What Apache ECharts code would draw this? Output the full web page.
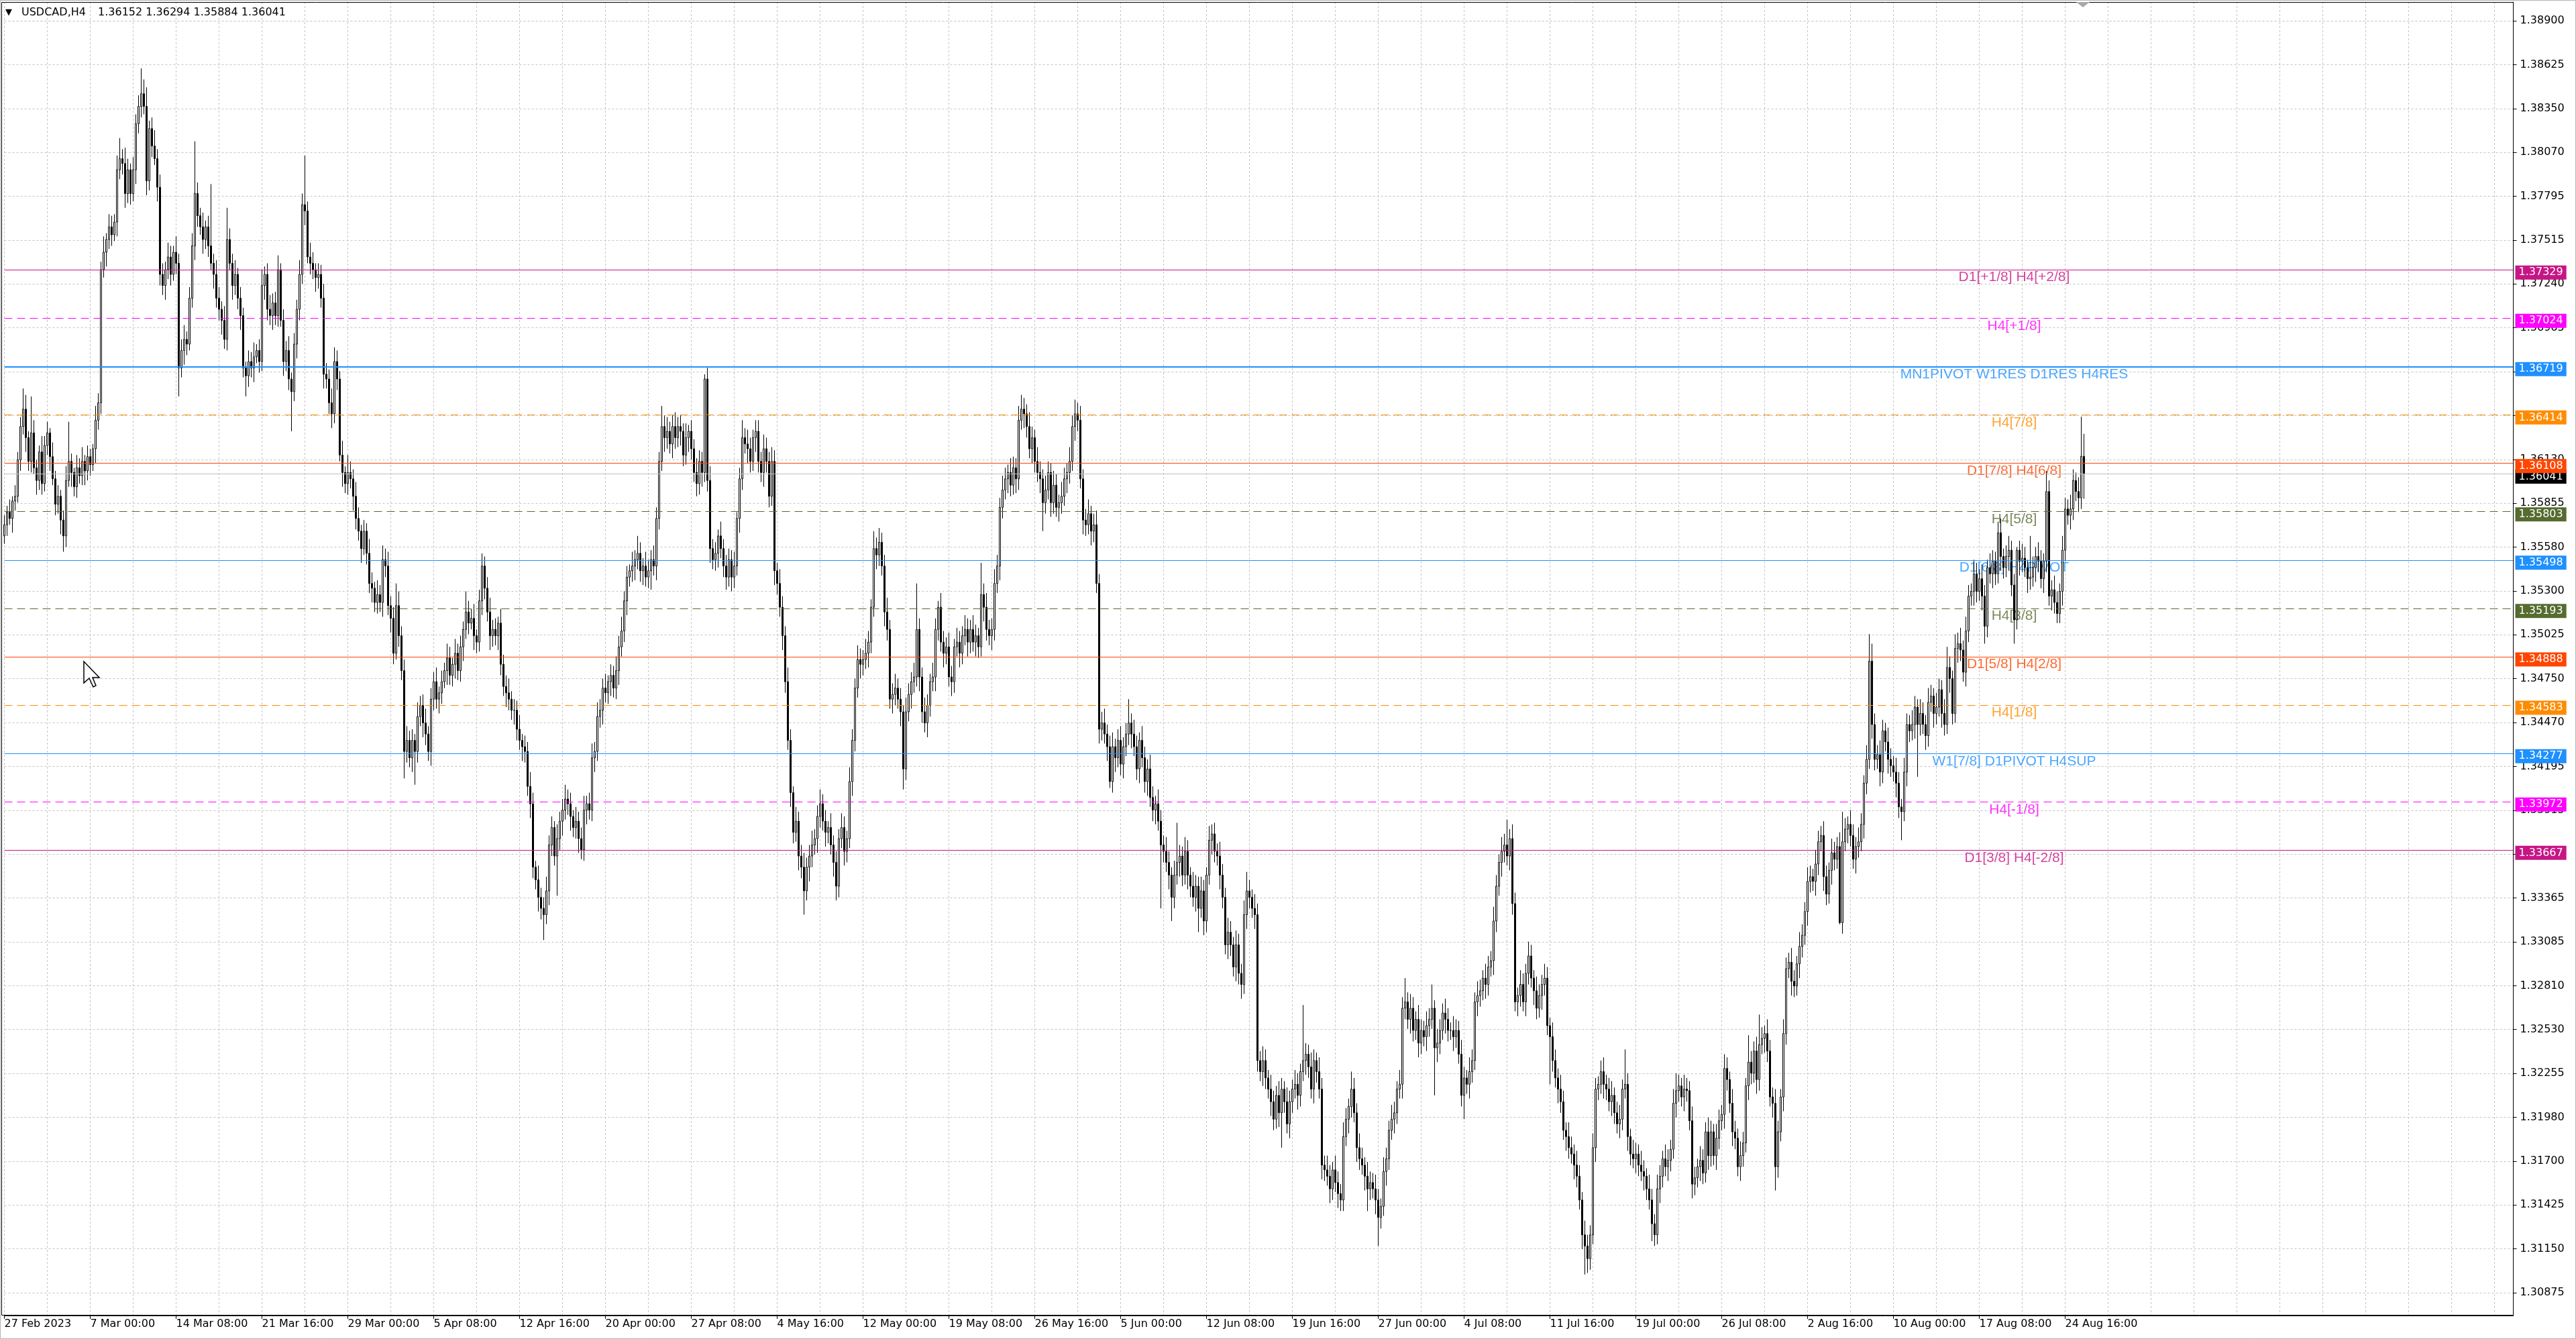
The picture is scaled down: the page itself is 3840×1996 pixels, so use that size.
<!DOCTYPE html>
<html><head><meta charset="utf-8">
<script src="https://cdn.jsdelivr.net/npm/echarts@6/dist/echarts.min.js"></script>
<style>html,body{margin:0;padding:0;background:#fff;overflow:hidden}#c{width:3840px;height:1996px}</style>
</head><body><div id="c"></div>
<script>
// ---------------- DATA ----------------
const symbolTitle = 'USDCAD,H4';
const firstOpen = 1.3565;
// H4 closes, 27 Feb 2023 16:00 -> 25 Aug 2023 20:00
const closes = [
/*0*/ 1.3572,1.3580,1.3576,1.3587,1.3590,1.3613,1.3634,1.3645,1.3627,1.3612,
/*10*/ 1.3630,1.3608,1.3600,1.3618,1.3598,1.3622,1.3630,1.3615,1.3601,1.3585,
/*20*/ 1.3590,1.3575,1.3565,1.3600,1.3612,1.3605,1.3596,1.3608,1.3603,1.3612,
/*30*/ 1.3606,1.3615,1.3610,1.3620,1.3638,1.3649,1.3733,1.3744,1.3752,1.3760,
/*40*/ 1.3755,1.3763,1.3796,1.3803,1.3800,1.3781,1.3796,1.3781,1.3796,1.3825,
/*50*/ 1.3836,1.3844,1.3836,1.3789,1.3822,1.3811,1.3803,1.3785,1.3730,1.3723,
/*60*/ 1.3733,1.3741,1.3730,1.3744,1.3737,1.3671,1.3682,1.3689,1.3686,1.3715,
/*70*/ 1.3748,1.3781,1.3767,1.3760,1.3752,1.3760,1.3748,1.3737,1.3730,1.3715,
/*80*/ 1.3708,1.3701,1.3689,1.3752,1.3737,1.3723,1.3730,1.3715,1.3704,1.3671,
/*90*/ 1.3666,1.3675,1.3671,1.3678,1.3682,1.3675,1.3723,1.3730,1.3708,1.3704,
/*100*/ 1.3712,1.3704,1.3733,1.3701,1.3675,1.3682,1.3664,1.3656,1.3686,1.3708,
/*110*/ 1.3730,1.3774,1.3770,1.3741,1.3737,1.3733,1.3728,1.3730,1.3715,1.3667,
/*120*/ 1.3664,1.3649,1.3642,1.3675,1.3664,1.3616,1.3605,1.3598,1.3605,1.3601,
/*130*/ 1.3590,1.3576,1.3568,1.3557,1.3568,1.3554,1.3535,1.3532,1.3523,1.3528,
/*140*/ 1.3523,1.3550,1.3546,1.3521,1.3513,1.3491,1.3521,1.3502,1.3480,1.3429,
/*150*/ 1.3436,1.3425,1.3436,1.3429,1.3451,1.3458,1.3447,1.3440,1.3429,1.3462,
/*160*/ 1.3473,1.3462,1.3466,1.3473,1.3480,1.3488,1.3477,1.3484,1.3491,1.3480,
/*170*/ 1.3495,1.3506,1.3517,1.3510,1.3513,1.3502,1.3498,1.3524,1.3546,1.3532,
/*180*/ 1.3517,1.3502,1.3506,1.3502,1.3510,1.3484,1.3470,1.3466,1.3462,1.3455,
/*190*/ 1.3455,1.3443,1.3436,1.3432,1.3429,1.3407,1.3396,1.3356,1.3348,1.3337,
/*200*/ 1.3330,1.3326,1.3341,1.3370,1.3381,1.3363,1.3374,1.3385,1.3392,1.3399,
/*210*/ 1.3396,1.3388,1.3381,1.3385,1.3374,1.3367,1.3392,1.3396,1.3392,1.3425,
/*220*/ 1.3429,1.3451,1.3455,1.3469,1.3466,1.3473,1.3477,1.3469,1.3480,1.3495,
/*230*/ 1.3505,1.3524,1.3539,1.3543,1.3546,1.3550,1.3554,1.3543,1.3546,1.3539,
/*240*/ 1.3543,1.3550,1.3546,1.3576,1.3612,1.3634,1.3627,1.3631,1.3623,1.3634,
/*250*/ 1.3627,1.3634,1.3631,1.3616,1.3627,1.3631,1.3620,1.3605,1.3598,1.3612,
/*260*/ 1.3605,1.3664,1.3600,1.3557,1.3550,1.3554,1.3565,1.3557,1.3546,1.3539,
/*270*/ 1.3550,1.3539,1.3546,1.3576,1.3601,1.3627,1.3623,1.3620,1.3612,1.3627,
/*280*/ 1.3631,1.3612,1.3605,1.3620,1.3612,1.3590,1.3612,1.3543,1.3535,1.3520,
/*290*/ 1.3502,1.3473,1.3436,1.3403,1.3378,1.3385,1.3363,1.3356,1.3341,1.3356,
/*300*/ 1.3363,1.3370,1.3374,1.3388,1.3396,1.3385,1.3378,1.3381,1.3370,1.3359,
/*310*/ 1.3344,1.3374,1.3381,1.3366,1.3374,1.3410,1.3436,1.3469,1.3487,1.3484,
/*320*/ 1.3487,1.3491,1.3498,1.3520,1.3557,1.3553,1.3561,1.3546,1.3517,1.3506,
/*330*/ 1.3462,1.3465,1.3469,1.3462,1.3454,1.3418,1.3454,1.3465,1.3473,1.3476,
/*340*/ 1.3506,1.3476,1.3454,1.3447,1.3458,1.3473,1.3476,1.3506,1.3520,1.3498,
/*350*/ 1.3491,1.3495,1.3476,1.3473,1.3495,1.3498,1.3491,1.3502,1.3506,1.3498,
/*360*/ 1.3506,1.3498,1.3502,1.3495,1.3528,1.3520,1.3506,1.3502,1.3506,1.3535,
/*370*/ 1.3546,1.3583,1.3594,1.3601,1.3605,1.3597,1.3608,1.3601,1.3638,1.3645,
/*380*/ 1.3642,1.3634,1.3620,1.3627,1.3612,1.3605,1.3601,1.3586,1.3594,1.3605,
/*390*/ 1.3586,1.3597,1.3583,1.3586,1.3590,1.3601,1.3605,1.3612,1.3634,1.3642,
/*400*/ 1.3638,1.3601,1.3575,1.3572,1.3579,1.3568,1.3572,1.3535,1.3443,1.3447,
/*410*/ 1.3440,1.3432,1.3410,1.3432,1.3425,1.3436,1.3421,1.3432,1.3440,1.3447,
/*420*/ 1.3440,1.3432,1.3418,1.3436,1.3425,1.3410,1.3418,1.3400,1.3392,1.3396,
/*430*/ 1.3385,1.3370,1.3366,1.3359,1.3351,1.3337,1.3351,1.3359,1.3363,1.3351,
/*440*/ 1.3366,1.3351,1.3344,1.3337,1.3344,1.3330,1.3341,1.3322,1.3351,1.3373,
/*450*/ 1.3377,1.3366,1.3363,1.3351,1.3337,1.3307,1.3315,1.3307,1.3293,1.3307,
/*460*/ 1.3289,1.3282,1.3326,1.3341,1.3337,1.3330,1.3326,1.3234,1.3227,1.3234,
/*470*/ 1.3223,1.3216,1.3208,1.3197,1.3212,1.3201,1.3216,1.3208,1.3194,1.3208,
/*480*/ 1.3216,1.3219,1.3212,1.3227,1.3234,1.3238,1.3230,1.3216,1.3234,1.3227,
/*490*/ 1.3216,1.3168,1.3165,1.3161,1.3153,1.3165,1.3157,1.3150,1.3146,1.3186,
/*500*/ 1.3197,1.3205,1.3216,1.3201,1.3179,1.3172,1.3168,1.3161,1.3153,1.3157,
/*510*/ 1.3153,1.3146,1.3135,1.3142,1.3164,1.3172,1.3190,1.3197,1.3201,1.3216,
/*520*/ 1.3219,1.3267,1.3271,1.3260,1.3267,1.3253,1.3260,1.3245,1.3253,1.3249,
/*530*/ 1.3256,1.3260,1.3267,1.3242,1.3245,1.3253,1.3264,1.3260,1.3253,1.3253,
/*540*/ 1.3249,1.3253,1.3238,1.3212,1.3223,1.3219,1.3227,1.3234,1.3271,1.3275,
/*550*/ 1.3278,1.3286,1.3282,1.3293,1.3297,1.3322,1.3344,1.3359,1.3366,1.3370,
/*560*/ 1.3363,1.3374,1.3333,1.3271,1.3275,1.3282,1.3271,1.3289,1.3300,1.3286,
/*570*/ 1.3278,1.3267,1.3275,1.3282,1.3286,1.3256,1.3249,1.3234,1.3223,1.3216,
/*580*/ 1.3208,1.3190,1.3186,1.3179,1.3175,1.3168,1.3161,1.3146,1.3124,1.3117,
/*590*/ 1.3109,1.3124,1.3179,1.3216,1.3219,1.3227,1.3219,1.3216,1.3208,1.3212,
/*600*/ 1.3201,1.3194,1.3197,1.3216,1.3219,1.3186,1.3175,1.3172,1.3175,1.3168,
/*610*/ 1.3164,1.3161,1.3153,1.3146,1.3131,1.3124,1.3153,1.3161,1.3172,1.3167,
/*620*/ 1.3171,1.3178,1.3207,1.3215,1.3218,1.3211,1.3216,1.3215,1.3196,1.3156,
/*630*/ 1.3160,1.3167,1.3171,1.3163,1.3189,1.3174,1.3189,1.3174,1.3185,1.3196,
/*640*/ 1.3200,1.3229,1.3222,1.3207,1.3189,1.3185,1.3167,1.3174,1.3182,1.3218,
/*650*/ 1.3233,1.3226,1.3240,1.3222,1.3244,1.3248,1.3251,1.3240,1.3211,1.3207,
/*660*/ 1.3167,1.3189,1.3211,1.3251,1.3292,1.3296,1.3284,1.3281,1.3295,1.3306,
/*670*/ 1.3313,1.3328,1.3347,1.3350,1.3347,1.3358,1.3372,1.3376,1.3350,1.3339,
/*680*/ 1.3354,1.3365,1.3361,1.3369,1.3321,1.3372,1.3380,1.3383,1.3376,1.3361,
/*690*/ 1.3369,1.3372,1.3383,1.3409,1.3424,1.3486,1.3446,1.3424,1.3427,1.3416,
/*700*/ 1.3442,1.3435,1.3424,1.3420,1.3416,1.3409,1.3394,1.3391,1.3416,1.3446,
/*710*/ 1.3442,1.3446,1.3457,1.3446,1.3453,1.3446,1.3439,1.3460,1.3464,1.3453,
/*720*/ 1.3457,1.3468,1.3453,1.3446,1.3482,1.3475,1.3453,1.3494,1.3497,1.3493,
/*730*/ 1.3479,1.3505,1.3527,1.3530,1.3541,1.3530,1.3538,1.3527,1.3508,1.3545,
/*740*/ 1.3541,1.3549,1.3541,1.3567,1.3552,1.3545,1.3552,1.3556,1.3534,1.3512,
/*750*/ 1.3556,1.3549,1.3551,1.3545,1.3538,1.3539,1.3545,1.3552,1.3549,1.3538,
/*760*/ 1.3549,1.3593,1.3527,1.3531,1.3523,1.3516,1.3530,1.3556,1.3582,1.3578,
/*770*/ 1.3582,1.3600,1.3593,1.3589,1.36152,1.36041
];
// wick lengths in pips above the body top / below the body bottom
const upperWicksPips = [
/*0*/ 6,4,8,3,7,5,6,13,9,4,  /*10*/ 23,8,5,4,10,6,7,3,9,5,
/*20*/ 7,4,6,9,25,5,3,8,6,9,  /*30*/ 4,7,5,3,9,6,5,10,4,8,
/*40*/ 7,5,9,13,6,10,7,4,8,6,  /*50*/ 7,16,9,12,5,7,10,6,8,7,
/*60*/ 5,9,7,4,10,6,7,9,5,7,  /*70*/ 8,33,7,5,9,4,7,39,6,9,
/*80*/ 7,5,9,20,7,6,9,4,7,5,  /*90*/ 4,7,6,9,4,7,10,5,7,9,
/*100*/ 6,7,9,4,7,6,9,4,7,6,  /*110*/ 9,7,31,6,9,7,4,7,6,9,
/*120*/ 7,6,9,9,7,5,9,4,11,7,  /*130*/ 6,9,7,4,7,5,9,7,4,9,
/*140*/ 6,9,7,9,6,7,14,9,6,7,  /*150*/ 9,6,7,4,9,6,7,9,5,7,
/*160*/ 6,9,4,7,5,9,7,4,9,6,  /*170*/ 7,5,13,7,6,9,4,7,8,6,
/*180*/ 7,9,6,7,4,9,6,7,9,5,  /*190*/ 7,6,9,4,7,6,9,7,4,9,
/*200*/ 6,7,9,6,7,4,9,6,7,9,  /*210*/ 6,7,4,9,6,7,9,5,7,9,
/*220*/ 6,9,7,6,9,4,7,6,9,7,  /*230*/ 9,6,7,4,9,6,11,7,5,9,
/*240*/ 7,6,9,7,6,13,7,9,6,7,  /*250*/ 9,6,7,5,9,4,7,6,9,7,
/*260*/ 6,3,7,9,6,7,4,9,6,7,  /*270*/ 7,6,9,4,7,11,6,9,7,5,
/*280*/ 7,7,6,9,7,6,9,7,5,9,  /*290*/ 7,6,9,7,4,9,6,7,9,6,
/*300*/ 7,9,6,7,9,6,7,4,9,6,  /*310*/ 7,6,9,7,5,9,7,6,9,7,
/*320*/ 6,9,7,5,11,7,9,6,7,9,  /*330*/ 6,7,9,6,7,4,9,7,6,9,
/*340*/ 29,7,6,9,7,5,9,7,4,9,  /*350*/ 7,6,9,7,5,9,7,6,9,7,
/*360*/ 6,9,7,5,20,7,9,6,7,9,  /*370*/ 7,6,9,7,5,9,7,6,9,9,
/*380*/ 7,6,9,7,5,9,7,6,9,7,  /*390*/ 6,9,7,5,9,7,6,9,7,9,
/*400*/ 7,9,6,7,9,5,7,9,6,7,  /*410*/ 9,6,7,9,5,7,9,6,7,15,
/*420*/ 6,9,7,5,9,7,6,9,7,5,  /*430*/ 9,7,6,9,7,5,9,25,7,6,
/*440*/ 9,7,5,9,7,6,9,7,5,9,  /*450*/ 6,7,5,9,7,6,9,7,5,9,
/*460*/ 7,6,9,12,7,5,9,7,6,9,  /*470*/ 7,5,9,7,6,9,7,5,9,7,
/*480*/ 6,9,7,5,35,7,6,9,7,5,  /*490*/ 9,7,6,9,7,5,9,7,6,9,
/*500*/ 7,5,11,7,6,9,7,5,9,7,  /*510*/ 6,9,7,5,9,7,6,9,7,5,
/*520*/ 9,7,15,6,9,7,5,9,7,6,  /*530*/ 9,7,15,5,9,7,6,9,7,5,
/*540*/ 9,7,6,9,7,5,9,7,6,9,  /*550*/ 7,5,9,7,6,9,7,5,9,7,
/*560*/ 16,6,9,7,5,9,7,6,9,7,  /*570*/ 5,9,7,6,9,7,5,9,7,6,
/*580*/ 9,7,5,9,7,6,9,7,5,9,  /*590*/ 7,6,9,7,5,7,9,6,7,9,
/*600*/ 5,7,9,6,22,7,5,9,7,6,  /*610*/ 9,7,5,9,7,6,9,7,5,9,
/*620*/ 7,6,9,11,7,5,9,7,6,9,  /*630*/ 7,5,9,7,6,9,7,5,9,7,
/*640*/ 6,9,7,5,9,7,6,9,7,5,  /*650*/ 17,7,6,9,19,7,5,9,7,6,
/*660*/ 9,7,5,9,7,6,9,7,5,9,  /*670*/ 7,6,9,7,5,9,7,6,9,7,
/*680*/ 5,9,7,6,9,19,7,5,9,7,  /*690*/ 6,9,7,5,9,17,11,7,6,9,
/*700*/ 7,5,9,7,6,9,7,5,9,7,  /*710*/ 6,9,7,5,9,7,6,9,7,5,
/*720*/ 9,7,6,9,13,7,5,9,7,10,  /*730*/ 6,9,7,5,9,7,6,9,7,5,
/*740*/ 9,7,6,7,9,5,7,9,6,7,  /*750*/ 2,6,9,7,5,26,7,6,9,7,
/*760*/ 5,13,7,6,9,7,5,9,7,6,  /*770*/ 9,7,5,9,25,14.2
];
const lowerWicksPips = [
/*0*/ 5,7,4,9,6,4,7,5,9,6,  /*10*/ 7,4,9,6,7,5,6,9,4,7,
/*20*/ 6,9,10,7,4,9,6,7,5,6,  /*30*/ 9,6,7,4,9,6,7,5,9,6,
/*40*/ 7,4,9,6,7,9,6,7,5,9,  /*50*/ 6,7,5,9,6,7,4,9,7,6,
/*60*/ 9,6,7,4,7,18,6,9,7,4,  /*70*/ 6,9,7,5,9,6,7,4,9,6,
/*80*/ 7,9,6,7,4,9,6,7,9,6,  /*90*/ 13,7,6,9,4,7,6,9,7,6,
/*100*/ 9,6,7,4,9,6,7,25,6,9,  /*110*/ 7,6,9,4,7,6,9,7,6,9,
/*120*/ 6,7,9,6,7,4,9,6,7,6,  /*130*/ 9,7,6,9,4,7,6,9,6,7,
/*140*/ 6,9,7,6,9,7,4,7,6,17,  /*150*/ 7,6,9,21,7,6,9,7,6,9,
/*160*/ 7,6,9,7,4,9,6,7,9,6,  /*170*/ 7,9,6,7,4,9,7,6,9,7,
/*180*/ 6,9,7,6,9,7,6,9,7,6,  /*190*/ 9,7,6,9,7,6,9,7,6,9,
/*200*/ 7,16,6,9,7,6,25,7,9,6,  /*210*/ 7,9,6,7,9,6,7,9,6,7,
/*220*/ 9,6,7,9,6,7,9,6,7,9,  /*230*/ 6,7,9,6,7,9,6,7,9,6,
/*240*/ 7,12,6,9,7,6,9,7,6,9,  /*250*/ 7,6,9,7,6,9,7,6,8,7,
/*260*/ 9,6,7,9,6,7,9,6,7,8,  /*270*/ 6,9,7,6,9,7,6,9,7,6,
/*280*/ 9,7,6,9,7,7,6,9,7,6,  /*290*/ 9,7,6,9,7,6,9,7,15,6,
/*300*/ 9,7,6,9,7,6,9,7,6,9,  /*310*/ 9,7,6,9,7,6,9,7,6,9,
/*320*/ 7,6,9,7,6,9,7,6,9,7,  /*330*/ 6,9,7,6,9,13,7,6,9,7,
/*340*/ 6,9,7,6,9,7,6,9,7,6,  /*350*/ 9,7,6,9,7,6,9,7,6,9,
/*360*/ 7,6,9,7,6,9,7,6,9,7,  /*370*/ 6,9,7,6,9,7,6,9,7,6,
/*380*/ 9,7,6,9,7,6,9,18,7,6,  /*390*/ 9,7,6,9,7,6,9,7,6,9,
/*400*/ 7,6,9,7,6,9,7,6,9,7,  /*410*/ 6,9,4,7,9,6,7,9,6,7,
/*420*/ 9,6,7,9,6,7,9,6,7,9,  /*430*/ 6,40,7,6,9,15,7,6,9,7,
/*440*/ 6,9,7,6,9,15,6,9,7,6,  /*450*/ 9,7,6,9,7,6,9,7,6,9,
/*460*/ 7,9,6,9,7,6,9,7,6,9,  /*470*/ 7,6,9,7,6,9,22,7,6,9,
/*480*/ 7,6,9,7,6,9,7,6,9,7,  /*490*/ 6,9,7,6,9,7,6,9,7,7,
/*500*/ 6,9,7,6,9,7,6,9,14,7,  /*510*/ 6,9,18,7,6,9,7,6,9,7,
/*520*/ 6,9,7,6,9,7,6,9,7,6,  /*530*/ 9,7,6,30,9,7,6,9,7,6,
/*540*/ 9,7,6,7,15,6,9,7,6,9,  /*550*/ 7,6,9,7,6,9,7,6,9,7,
/*560*/ 6,9,7,6,9,7,6,9,7,6,  /*570*/ 9,7,6,9,7,6,30,7,6,9,
/*580*/ 7,6,9,7,6,9,7,6,9,18,  /*590*/ 9,7,6,9,7,6,9,7,6,9,
/*600*/ 7,6,9,7,6,9,7,6,9,7,  /*610*/ 6,9,7,6,11,7,6,9,7,6,
/*620*/ 9,7,6,9,7,6,9,7,6,9,  /*630*/ 7,6,9,7,6,9,7,6,9,7,
/*640*/ 6,9,7,6,9,7,6,9,7,6,  /*650*/ 9,7,6,9,7,6,9,7,6,9,
/*660*/ 15,7,6,9,7,6,9,7,6,9,  /*670*/ 7,6,9,7,6,9,7,6,9,7,
/*680*/ 6,9,7,6,1,7,6,9,7,6,  /*690*/ 9,7,6,9,7,6,9,7,6,9,
/*700*/ 7,6,9,7,6,9,7,18,6,9,  /*710*/ 7,6,9,33,7,6,9,7,6,9,
/*720*/ 7,6,9,7,6,9,7,6,9,7,  /*730*/ 6,9,7,6,9,7,6,9,11,7,
/*740*/ 6,9,7,6,9,7,6,9,7,15,  /*750*/ 6,9,7,6,9,7,6,9,7,6,
/*760*/ 9,7,6,9,7,6,6,9,7,6,  /*770*/ 9,7,6,9,7,15.7
];
const xTickLabels = ['27 Feb 2023','7 Mar 00:00','14 Mar 08:00','21 Mar 16:00','29 Mar 00:00','5 Apr 08:00',
  '12 Apr 16:00','20 Apr 00:00','27 Apr 08:00','4 May 16:00','12 May 00:00','19 May 08:00','26 May 16:00',
  '5 Jun 00:00','12 Jun 08:00','19 Jun 16:00','27 Jun 00:00','4 Jul 08:00','11 Jul 16:00','19 Jul 00:00',
  '26 Jul 08:00','2 Aug 16:00','10 Aug 00:00','17 Aug 08:00','24 Aug 16:00'];
// price scale labels, bottom to top
const yTickLabels = ['1.30875','1.31150','1.31425','1.31700','1.31980','1.32255','1.32530','1.32810','1.33085',
  '1.33365','1.33640','1.33915','1.34195','1.34470','1.34750','1.35025','1.35300','1.35580','1.35855','1.36130',
  '1.36410','1.36685','1.36965','1.37240','1.37515','1.37795','1.38070','1.38350','1.38625','1.38900'];
const levelValues = [1.37329,1.37024,1.36719,1.36414,1.36108,1.35803,1.35498,1.35193,1.34888,1.34583,1.34277,1.33972,1.33667];
const levelNames = ['D1[+1/8] H4[+2/8]','H4[+1/8]','MN1PIVOT W1RES D1RES H4RES','H4[7/8]','D1[7/8] H4[6/8]','H4[5/8]',
  'D1[6/8] H4PIVOT','H4[3/8]','D1[5/8] H4[2/8]','H4[1/8]','W1[7/8] D1PIVOT H4SUP','H4[-1/8]','D1[3/8] H4[-2/8]'];

// ---------------- STYLES ----------------
const levelColors = ['#C71585','#FF00FF','#1E90FF','#FF8C00','#FF4500','#556B2F','#1E90FF','#556B2F','#FF4500','#FF8C00','#1E90FF','#FF00FF','#C71585'];
const levelDashed = [false,true,false,true,false,true,false,true,false,true,false,true,false];
const levelWidths = [1.2,1.2,2,1.2,1.2,1.2,1.2,1.2,1.2,1.2,1.2,1.2,1.2];

// ---------------- BUILD ----------------
const nSlots = 936;
const categories = Array.from({length:nSlots}, (_, i) => String(i));
const candles = closes.map((c, i) => {
  const o = i === 0 ? firstOpen : closes[i-1];
  const hi = Math.max(o, c) + (upperWicksPips[i] || 0) / 10000;
  const lo = Math.min(o, c) - (lowerWicksPips[i] || 0) / 10000;
  return [o, c, lo, hi];
});
const last = candles[candles.length-1];
const bidPrice = closes[closes.length-1];
const headerPrices = [last[0], last[3], last[2], last[1]].map(v => v.toFixed(5)).join(' ');

const tickMin = +yTickLabels[0], tickMax = +yTickLabels[yTickLabels.length-1];
const tickStep = (tickMax - tickMin) / (yTickLabels.length - 1);
const pxPerUnit = (1927 - 31) / (tickMax - tickMin);
const yMin = tickMin - (1961 - 1927) / pxPerUnit;
const yMax = tickMax + (31 - 3) / pxPerUnit;

const FONT = 'DejaVu Sans';
const boxLabel = (text, bg) => ({show:true, position:'end', distance:3, offset:[0,4], formatter:text, color:'#fff',
  backgroundColor:bg, padding:[3,5,2,5], fontSize:16, fontFamily:FONT});
const markData = [{
  yAxis: bidPrice,
  lineStyle: {color:'#C0C0C0', type:'solid', width:1},
  label: boxLabel(bidPrice.toFixed(5), '#000')
}].concat(levelValues.map((v, k) => ({
  yAxis: v,
  lineStyle: {color: levelColors[k], type: levelDashed[k] ? [12,7] : 'solid', width: levelWidths[k]},
  label: boxLabel(v.toFixed(5), levelColors[k])
})));

const every = (n, lim) => (i) => i % n === 0 && i <= lim;

const option = {
  animation: false,
  backgroundColor: '#fff',
  textStyle: {fontFamily: FONT},
  grid: [
    {left:6.5, right:93.5, top:3, bottom:35, show:false, containLabel:false, outerBoundsMode:'none'},
    {left:6.5, right:93.5, top:31, bottom:69, show:false, containLabel:false, outerBoundsMode:'none'}
  ],
  xAxis: [
    {type:'category', gridIndex:0, data:categories, boundaryGap:false,
     axisLine:{show:true, onZero:false, lineStyle:{color:'#000', width:1}},
     axisTick:{show:true, interval: every(32, 768), length:5, lineStyle:{color:'#000'}},
     axisLabel:{show:true, interval: every(32, 768), align:'left', margin:5, color:'#000', fontSize:16, fontFamily:FONT,
                formatter:(v, i) => xTickLabels[Math.round(+v/32)] || ''},
     splitLine:{show:true, interval: every(16, 100000), lineStyle:{color:'#C4C4C4', type:[3,3], width:1}}},
    {type:'category', gridIndex:1, data:categories, boundaryGap:false, show:false}
  ],
  yAxis: [
    {type:'value', gridIndex:0, position:'right', min:yMin, max:yMax,
     axisLine:{show:true, lineStyle:{color:'#000'}}, axisTick:{show:false}, axisLabel:{show:false}, splitLine:{show:false}},
    {type:'value', gridIndex:1, position:'right', min:tickMin, max:tickMax, interval:tickStep,
     axisLine:{show:false}, axisTick:{show:true, length:5, lineStyle:{color:'#000'}},
     axisLabel:{show:true, margin:10, color:'#000', fontSize:16, fontFamily:FONT, showMinLabel:true, showMaxLabel:true,
                formatter:(v) => yTickLabels[Math.round((v - tickMin)/tickStep)] || ''},
     splitLine:{show:true, lineStyle:{color:'#C4C4C4', type:[3,3], width:1}}}
  ],
  series: [
    {type:'scatter', xAxisIndex:0, yAxisIndex:0, z:1, symbolSize:0, silent:true, clip:false,
     data: levelValues.map((v, k) => ({value:[749, v], name: levelNames[k], label:{color: levelColors[k]}})),
     label:{show:true, position:'bottom', distance:1, formatter:'{b}', fontFamily:'Liberation Sans', fontSize:21},
     emphasis:{disabled:true},
     markLine:{silent:true, precision:6, symbol:['none','none'], animation:false, emphasis:{disabled:true}, data: markData}},
    {type:'candlestick', xAxisIndex:0, yAxisIndex:0, z:3, large:false, barWidth:3, silent:true,
     data: candles,
     itemStyle:{color:'#FFFFFF', color0:'#000000', borderColor:'#000000', borderColor0:'#000000', borderColorDoji:'#000000', borderWidth:1}}
  ],
  graphic: [
    {type:'rect', silent:true, z:100, shape:{x:0.5, y:0.5, width:3839, height:1995}, style:{fill:null, stroke:'#B4B4B4', lineWidth:1}},
    {type:'rect', silent:true, z:100, shape:{x:2.5, y:3.5, width:3744, height:1957}, style:{fill:null, stroke:'#000', lineWidth:1}},
    {type:'text', silent:true, z:100, x:8, y:19, style:{text:'▼', fill:'#000', font:'13px ' + FONT, verticalAlign:'middle'}},
    {type:'text', silent:true, z:100, x:32, y:19, style:{text:symbolTitle, fill:'#000', font:'16px ' + FONT, verticalAlign:'middle'}},
    {type:'text', silent:true, z:100, x:146, y:19, style:{text:headerPrices, fill:'#000', font:'16px ' + FONT, verticalAlign:'middle'}},
    {type:'polygon', silent:true, z:100, shape:{points:[[3095,3],[3115,3],[3105,11]]}, style:{fill:'#A8A8A8'}},
    {type:'polygon', silent:true, z:100, shape:{points:[[125,986],[125,1018],[133,1011],[139,1024],[143,1022],[138,1010],[148,1010]]},
     style:{fill:'#fff', stroke:'#000', lineWidth:1.5}}
  ]
};

const chart = echarts.init(document.getElementById('c'), null, {renderer:'canvas', width:3840, height:1996});
chart.setOption(option);
</script>
</body></html>
